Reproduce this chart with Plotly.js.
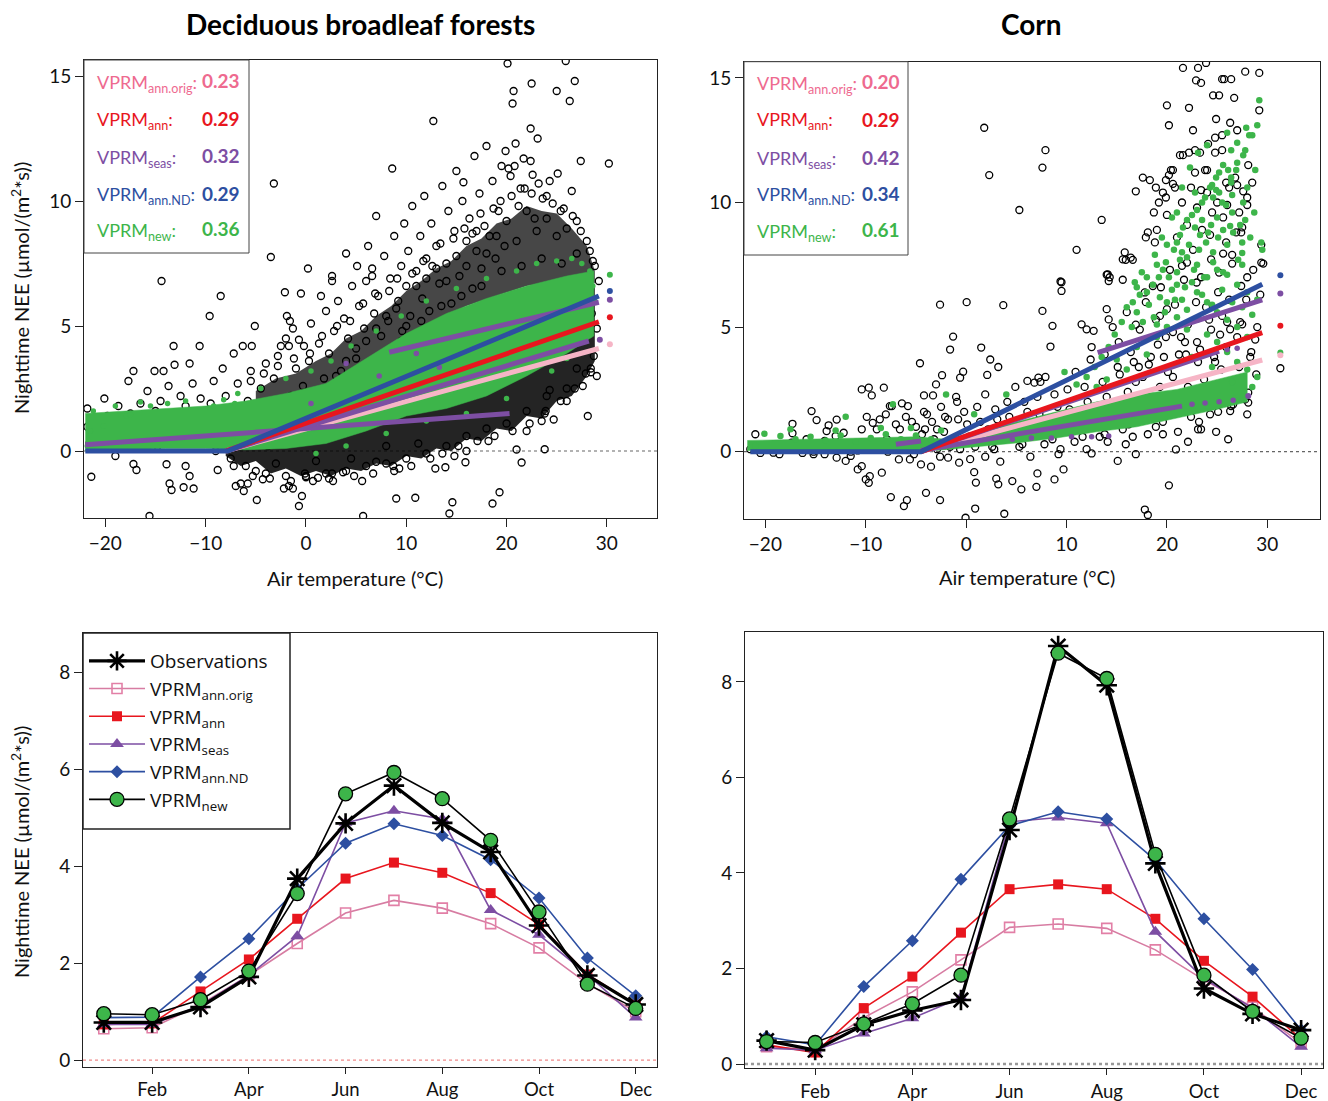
<!DOCTYPE html>
<html><head><meta charset="utf-8">
<script src="https://cdn.plot.ly/plotly-3.0.1.min.js"></script>
<style>body{margin:0;background:#fff}#chart{width:1328px;height:1101px}</style>
</head><body><div id="chart"></div>
<script>
// ---------------- DATA ----------------
// Top-left: Deciduous broadleaf forests, nighttime NEE vs air temperature
const dbfObs = [
[-21.8,1.7],[-21.8,0.97],[-21.4,-1.03],[-21.6,0.3],[-21.2,0.6],[-20.9,1.3],[-20.6,0.1],[-20.1,2.1],[-20.3,0.8],[-19.8,1.4],[-19.5,0.4],[-19.2,0.9],[-19.0,-0.2],[-18.7,1.8],[-18.5,0.6],[-18.2,1.1],[-17.9,0.2],[-17.7,2.8],[-17.5,1.5],[-17.2,3.2],[-17.2,-0.52],[-16.9,-0.76],[-16.8,0.9],[-16.5,1.9],[-16.3,0.4],[-16.0,1.3],[-15.8,2.4],[-15.6,-2.6],[-15.5,0.7],[-15.1,3.2],[-15.0,1.6],[-14.8,0.2],[-14.5,2.0],[-14.4,6.8],[-14.2,3.2],[-14.0,1.0],[-13.9,-0.53],[-13.7,2.6],[-13.6,-1.3],[-13.4,-1.56],[-13.2,4.2],[-13.1,3.45],[-13.0,1.4],[-12.8,0.5],[-12.5,2.2],[-12.2,-1.45],[-12.0,-0.6],[-12.0,1.8],[-11.8,0.9],[-11.6,3.5],[-11.6,-1.0],[-11.2,-1.5],[-11.3,2.7],[-11.0,1.2],[-10.8,0.3],[-10.6,4.2],[-10.5,2.1],[-10.2,1.6],
[-9.6,5.4],[-8.5,6.2],[-9.8,0.5],[-9.5,1.9],[-9.2,2.8],[-9.0,0.0],[-8.8,-0.76],[-8.6,1.3],[-8.3,3.3],[-8.0,2.2],[-7.8,0.8],[-7.5,-0.3],[-7.2,3.9],[-7.0,-1.4],[-7.0,1.6],[-6.8,2.7],[-6.5,-1.3],[-6.3,4.2],[-6.2,-1.6],[-6.0,0.4],[-5.8,-1.3],[-5.8,2.0],[-5.5,3.2],[-5.4,4.2],[-5.1,5.0],[-5.0,-0.8],[-4.9,-1.96],[-4.7,1.1],[-4.5,2.5],[-4.3,-1.13],[-4.0,3.5],[-3.8,0.2],[-3.5,7.76],[-3.5,1.6],[-3.2,10.7],[-3.2,2.9],[-3.0,-0.5],[-2.8,3.8],[-2.5,4.2],[-2.4,0.9],[-2.2,-1.5],[-2.1,6.35],[-2.0,4.5],[-1.9,5.4],[-1.7,4.2],[-1.7,-1.4],[-1.6,5.2],[-1.5,2.2],[-1.3,4.9],[-1.3,-1.5],[-1.0,3.3],[-0.8,0.6],[-0.7,4.45],[-0.7,-2.2],[-0.5,6.3],[-0.4,-1.8],[-0.3,2.6],[-0.2,4.2],[-0.1,-0.9],
[0.2,7.3],[0.0,-1.05],[0.3,3.6],[0.5,5.1],[0.8,1.8],[1.0,-0.4],[1.2,-1.07],[1.3,4.3],[1.5,6.2],[1.8,2.9],[2.0,5.6],[2.3,-1.1],[2.3,3.9],[2.6,7.0],[2.6,6.8],[2.6,-0.9],[2.8,4.8],[3.0,1.2],[3.2,6.0],[3.5,3.2],[3.7,-0.85],[3.8,5.3],[4.0,7.9],[4.2,4.5],[4.5,-0.3],[4.6,6.6],[5.0,3.7],[5.1,7.4],[5.3,5.8],[5.6,-1.2],[5.7,-2.6],[5.8,4.9],[6.0,6.8],[6.2,8.2],[6.4,3.4],[6.6,7.3],[6.6,7.0],[6.8,5.5],[7.0,-0.43],[7.0,9.4],[7.2,6.2],[7.5,4.6],[7.8,7.8],[8.0,0.2],[8.2,5.2],[8.4,6.9],[8.6,11.3],[8.7,-0.6],[8.8,8.6],[9.0,-1.9],[9.2,6.0],[9.3,-0.7],[9.5,7.4],[9.6,4.8],[9.8,9.1],
[10.0,6.6],[10.2,8.0],[10.4,5.4],[10.6,9.8],[10.9,-1.87],[11.0,7.2],[11.2,0.3],[11.4,8.6],[11.6,6.1],[11.8,10.2],[12.0,7.7],[12.3,5.6],[12.5,9.1],[12.7,13.2],[12.9,-0.7],[13.0,8.2],[13.3,6.7],[13.6,10.6],[13.9,-0.65],[14.0,7.5],[14.2,9.6],[14.3,-2.5],[14.6,-2.05],[14.5,5.9],[14.8,-0.2],[14.8,8.8],[15.0,11.2],[15.3,7.0],[15.6,10.0],[15.7,10.75],[15.9,-0.45],[16.0,0.0],[16.0,8.4],[16.3,9.3],[16.6,6.5],[16.8,11.8],[17.0,8.0],[17.3,10.3],[17.5,7.3],[17.8,9.0],[18.0,12.2],[18.2,0.4],[18.3,8.6],[18.6,-2.1],[18.6,10.8],[18.9,7.7],[19.2,9.6],[19.3,-1.65],[19.5,11.4],[19.9,12.0],[19.8,8.2],
[20.1,15.5],[20.2,11.3],[20.4,11.0],[20.6,13.9],[20.7,14.4],[20.8,11.4],[20.9,12.3],[21.0,0.06],[21.2,9.8],[21.5,-0.46],[21.7,11.7],[21.8,10.5],[22.0,0.8],[22.4,11.6],[22.4,12.9],[22.5,14.7],[22.6,11.05],[22.8,9.3],[23.1,12.5],[23.2,10.7],[23.5,1.2],[23.8,1.5],[23.8,0.07],[24.0,10.2],[24.3,10.8],[24.3,2.44],[24.7,1.26],[25.0,14.4],[25.1,11.1],[25.4,9.6],[25.9,15.6],[26.0,2.0],[26.3,14.0],[26.5,10.4],[26.8,14.8],[27.0,9.2],[27.4,11.6],[27.6,2.6],[28.1,1.4],[28.0,8.4],[28.4,3.3],[28.4,3.15],[28.6,7.6],[29.0,3.0],[29.2,6.8],[30.2,11.5],
[3,3.0],[4,3.6],[5,4.1],[6,4.4],[7,4.9],[8,5.4],[9,5.7],[10,5.0],[11,6.6],[12,6.9],[13,7.3],[14,6.8],[15,7.8],[16,7.4],[17,8.8],[18,7.9],[19,8.6],[20,9.2],[21,8.4],[22,9.6],[23,8.8],[24,9.3],[25,8.6],[26,8.9],[27,7.9],[21.5,7.4],[23.5,7.7],[25.5,7.5],[19.5,7.2],[17.5,6.6],[15.5,6.2],[13.5,5.8],[11.5,5.2],[9.5,4.4],[7.5,3.8],[5.5,3.2],[2.5,2.6],[0.5,2.2],[-1.5,1.6],[-3.5,1.3],[-5.5,0.9],[-7.5,0.6],
[-6,-0.6],[-4,-0.9],[-2,-1.0],[0,-1.0],[2,-0.9],[4,-0.8],[6,-0.6],[8,-0.5],[10,-0.3],[12,-0.1],[14,0.2],[16,0.6],[18,0.9],[20,1.1],[22,1.6],[24,2.2],[26,2.5],[27,3.3],[28,4.6],[28.5,5.5],[29,4.9],
[-5.5,2.8],[-4.2,3.1],[-2.8,3.4],[-1.2,3.7],[0.4,3.9],[1.6,4.6],[3.1,5.0],[4.4,5.2],[5.7,5.9],[6.9,6.3],[8.3,6.4],[9.1,6.9],[10.6,7.1],[11.7,7.6],[12.6,7.4],[13.4,8.3],[14.7,8.5],[15.8,8.9],[16.6,8.7],[17.4,9.5],[18.7,9.7],[19.4,10.0],[20.5,10.2],[21.4,10.5],[22.5,10.3],[23.6,10.1],[24.6,9.9],[25.7,9.7],[26.6,9.4],[27.4,8.8],[28.3,8.0],[28.8,7.4],
[-7.2,-0.6],[-5.3,-1.0],[-3.6,-1.1],[-1.5,-1.2],[0.7,-1.2],[2.7,-1.2],[4.8,-1.0],[6.7,-0.9],[8.8,-0.8],[10.5,-0.6],[12.4,-0.3],[13.6,-0.1],[15.2,0.2],[17.1,0.4],[18.8,0.6],[20.6,0.8],[22.3,1.1],[23.9,1.6],[25.4,2.0],[26.8,2.5],[27.9,3.1],[28.7,3.8]
];
// dense observation cores (envelopes read from the cloud)
const dbfCoreLowT   = [-8, -6.5, -5, -3.5, -2, -0.5, 1, 2.5, 4, 5.5, 7, 8.5, 10, 11.5, 13, 14.5, 16, 17.5, 19, 20.5, 22, 23.5, 25, 26.5, 28, 28.8];
const dbfCoreLowBot = [-0.2, -0.6, -0.4, -0.9, -0.7, -1.0, -0.8, -1.0, -0.7, -0.8, -0.5, -0.6, -0.2, -0.3, 0.1, 0.0, 0.5, 0.4, 0.9, 0.8, 1.4, 1.3, 2.0, 2.2, 3.0, 3.6];
const dbfCoreLowTop = [0.5, 0.7, 0.9, 1.1, 1.3, 1.5, 1.7, 2.0, 2.3, 2.6, 2.9, 3.2, 3.5, 3.8, 4.1, 4.4, 4.7, 5.0, 5.3, 5.6, 5.9, 6.1, 6.3, 6.5, 6.6, 6.6];
const dbfCoreHighT   = [-5, -3, -1, 1, 2.5, 4, 5.5, 7, 8.5, 10, 11.5, 13, 14.5, 16, 17.5, 19, 20.5, 22, 23.5, 25, 26.5, 28, 28.8];
const dbfCoreHighBot = [1.9, 2.1, 2.2, 2.4, 2.7, 3.1, 3.4, 3.8, 4.2, 4.6, 4.9, 5.2, 5.5, 5.8, 6.0, 6.2, 6.4, 6.6, 6.7, 6.8, 6.9, 6.9, 6.7];
const dbfCoreHighTop = [2.4, 2.9, 3.1, 3.6, 3.9, 4.5, 4.8, 5.4, 5.8, 6.4, 6.8, 7.3, 7.6, 8.2, 8.5, 9.1, 9.3, 9.8, 9.6, 9.5, 8.9, 8.2, 7.2];
// VPRM_new predictions band + scattered edge points
const dbfNewT  = [-22, -18, -14, -10, -6, -2, 2, 6, 10, 14, 18, 22, 26, 28.7];
const dbfNewUp = [1.5, 1.6, 1.7, 1.8, 2.0, 2.3, 2.7, 3.7, 4.7, 5.5, 6.1, 6.6, 7.0, 7.2];
const dbfNewLo = [0.0, 0.05, 0.1, 0.1, 0.05, 0.1, 0.3, 0.8, 1.4, 1.7, 2.2, 3.0, 3.9, 4.6];
const dbfNewPts = [[-21.2,1.6],[-20.2,1.0],[-19.0,1.8],[-17.9,1.4],[-17.5,1.45],[-16.5,1.96],[-15.5,1.8],[-13.8,1.9],[-12.0,2.0],[-9.2,1.8],[-8.2,2.05],[-7.1,1.9],[-6.8,2.3],[-4.5,2.5],[-2.0,2.9],[0.5,3.2],[2.5,3.6],[4.5,4.2],[7.0,4.8],[9.5,5.4],[12.0,6.0],[15.0,6.5],[18.0,6.9],[21.0,7.2],[23.0,7.5],[25.0,7.6],[26.5,7.7],[27.5,7.5],[28.3,7.2],[28.6,6.6],[28.8,6.0],[-21.8,0.2],[-21.5,0.8],[24.5,3.2],[26.0,3.7],[27.5,4.4],[20.0,2.1],[16.0,1.5],[12.0,1.2],[8.0,0.7],[4.0,0.2],[1.0,-0.1]];
// model response lines
const dbfOrigT = [-8, 29.2],  dbfOrigY = [0, 4.1];
const dbfAnnT  = [-8, 29.2],  dbfAnnY  = [0, 5.17];
const dbfNdT   = [-22, -7.8, 29.2], dbfNdY = [0, 0, 6.2];
const dbfSeasSegT = [[-22, 20.3], [8.3, 29.2], [-8, 28.2]];
const dbfSeasSegY = [[0.25, 1.5], [3.95, 5.95], [0, 4.4]];
const dbfSeasPts = [[4.0,3.5],[7.3,3.0],[13.3,3.35],[11.0,3.9],[0.5,1.9]];
const dbfEndT = [30.3, 30.3, 30.3, 30.3, 29.3, 30.3];
const dbfEndY = [7.05, 6.4, 6.05, 5.35, 4.45, 4.27];

// Top-right: Corn
const cornObs = [
[-21.0,0.7],[-21.5,0.1],[-20.5,-0.05],[-19.2,-0.04],[-18.6,-0.1],[-17.3,1.12],[-17.3,0.74],[-16.5,0.2],[-15.4,1.63],[-14.9,1.27],[-13.9,0.83],[-13.7,1.06],[-12.9,1.29],[-15.2,-0.1],[-14.1,-0.1],[-12.9,-0.24],[-12.0,-0.37],[-11.5,-0.17],[-10.8,-0.71],[-10.4,-0.58],[-10.0,-1.11],[-9.7,-1.25],[-9.6,-0.98],[-8.4,-0.84],[-10.4,2.5],[-9.7,2.57],[-9.4,2.26],[-8.2,2.57],[-7.6,1.83],[-7.4,1.83],[-6.4,1.94],[-5.8,1.83],[-7.5,-1.82],[-6.2,-2.18],[-5.9,-1.94],[-4.6,3.55],[-4.2,2.26],[-3.3,2.26],[-3.0,2.7],[-2.4,3.07],[-1.3,4.62],[-0.6,2.97],[-0.3,3.21],[0.05,6.0],[1.5,4.18],[2.1,3.08],[2.4,3.7],[3.2,3.4],[3.7,5.88],[7.6,5.65],[9.4,6.83],[9.5,6.45],[8.6,5.05],[8.4,4.22],[7.2,2.97],[7.4,2.8],[6.1,2.84],[6.8,2.77],[11.5,5.11],[12.0,4.91],[12.7,4.85],
[-16.3,-0.05],[-15.2,0.0],[-14.2,0.1],[-12.9,0.05],[-11.5,0.0],[-10.8,0.05],[-9.8,0.1],[-8.8,0.15],[-7.8,0.0],[-6.8,0.1],[-5.8,0.2],[-17.4,0.36],[-15.9,0.5],[-14.1,0.43],[-13.0,0.63],[-12.2,0.76],[-10.4,0.9],[-9.3,1.16],[-8.6,1.3],
[-9.9,1.4],[-8.9,0.9],[-8.0,1.5],[-7.0,1.1],[-6.0,1.4],[-5.0,1.0],[-4.2,1.6],[-3.4,1.2],[-2.5,1.8],[-1.8,1.3],[-1.0,2.2],[-0.2,1.6],
[-8.7,0.3],[-7.9,0.5],[-7.1,0.2],[-6.6,0.9],[-5.9,0.4],[-5.4,1.2],[-5.1,0.1],[-4.4,0.7],[-3.9,1.5],[-3.6,0.3],[-2.9,0.9],[-2.6,-0.2],[-2.1,1.4],[-1.4,0.5],[-0.9,2.0],[-0.6,0.1],[0.1,1.1],[0.4,-0.3],[1.1,1.8],[1.6,0.6],[1.9,2.3],[2.6,0.2],[3.1,1.3],[3.4,-0.4],[4.1,2.0],[4.6,0.8],[4.9,2.6],[5.6,0.3],[6.1,1.6],[6.4,-0.2],[7.1,2.2],[7.6,0.9],[7.9,3.0],[8.6,0.5],[9.1,1.8],[9.4,0.1],[10.1,2.5],[10.6,1.2],[10.9,3.2],[11.6,0.6],[12.1,2.0],[12.4,3.7],[13.1,1.0],[13.6,2.8],[14.1,0.4],[14.4,1.7],[15.1,3.4],[15.6,0.9],[16.1,2.4],[16.4,4.0],[17.1,1.4],[17.6,3.0],[18.1,0.7],[18.4,2.1],[19.1,4.3],[19.6,1.2],[20.1,3.2],[20.4,2.0],[21.1,0.8],[21.4,4.6],[22.1,2.6],[22.4,1.4],[23.1,3.6],[23.4,0.9],[24.1,2.2],[24.4,4.9],[25.1,1.6],[25.4,3.3],[26.1,0.5],[27.1,2.9],[28.0,1.5],
[-4.8,0.4],[-4.1,0.9],[-3.2,0.5],[-2.2,0.8],[-1.6,0.2],[-0.8,1.3],[0.3,0.6],[0.9,0.2],[1.4,1.2],[2.2,0.9],[2.9,1.7],[3.6,0.5],[4.3,1.4],[5.1,1.0],[5.8,2.0],[6.6,0.7],[7.3,1.5],[8.1,1.1],[8.8,2.3],[9.6,0.9],[10.3,1.7],[11.1,1.0],[11.8,2.6],[12.6,1.5],[13.3,0.6],[14.0,2.2],[14.7,1.2],[15.4,2.0],[16.2,1.1],[16.9,2.8],[17.7,1.8],[18.2,3.5],[18.9,1.0],[19.3,2.6],[19.9,1.6],[20.6,3.0],[21.3,1.9],[21.9,3.9],[22.6,2.2],[23.2,1.2],[23.7,2.9],[24.3,1.5],[24.8,3.6],[25.4,2.3],[25.9,4.2],[26.6,1.9],[27.2,3.4],[27.8,2.1],[28.4,4.0],[28.9,3.1],
[2.8,0.1],[5.3,0.2],[7.8,0.3],[10.8,0.4],[13.8,0.7],[16.6,0.6],[19.6,0.7],[22.1,0.4],[24.9,0.8],[-2.9,0.1],[-5.2,-0.1],[1.9,-0.2],[9.2,-0.1],[12.0,0.1],[15.9,0.3],
[15.3,3.1],[17.2,3.4],[19.7,3.8],[21.8,4.4],[23.3,4.1],[25.3,4.7],[27.3,5.2],[28.8,4.5],[16.9,5.1],[20.6,4.8],[22.9,6.0],[24.2,5.3],[26.2,6.1],[28.0,7.0],[29.3,6.3],
[20.2,-1.35],[17.8,-2.32],[18.1,-2.54],[20.9,0.09],[23.1,0.9],[16.9,-0.1],[15.1,-0.37],[12.5,-0.07],[9.7,-0.71],[8.8,-1.11],[7.0,-1.41],[7.1,-0.87],[5.5,-1.51],[4.6,-1.18],[3.0,-1.08],[3.2,-1.31],[0.8,-0.82],[0.97,-1.24],[0.9,-2.28],[3.8,-2.49],[-0.06,-2.65],[-4.0,-1.65],[-2.6,-1.94],[-0.7,-0.44],[-1.8,-0.24],[-3.5,-0.6],[-4.5,-0.51],[-5.6,-0.31],[-6.7,-0.31],
[14.1,7.12],[14.2,6.85],[14.0,5.72],[14.2,5.31],[15.6,7.72],[16.4,7.79],[17.8,6.39],[18.6,6.65],[19.3,5.45],[20.0,5.72],[21.5,7.46],[22.0,7.59],[22.96,6.79],[24.4,7.72],[25.2,7.19],[25.5,5.45],[26.3,4.91],[25.9,2.77],[26.3,2.5],[26.4,1.83],[26.3,1.63],[28.1,1.97],[28.1,2.37],[29.4,7.59],[27.4,6.65],[27.5,5.11],[31.3,3.35],
[12.5,4.2],[13.8,3.9],[14.6,5.0],[15.2,4.4],[16.0,5.6],[16.7,3.6],[17.3,4.9],[17.9,6.0],[18.4,3.8],[18.9,5.3],[19.4,6.6],[19.9,4.6],[20.3,7.3],[20.8,5.9],[21.2,3.9],[21.7,6.9],[22.1,5.1],[22.6,8.1],[23.0,4.4],[23.4,7.0],[23.9,5.8],[24.3,8.7],[24.7,3.8],[25.1,6.4],[25.6,9.4],[26.0,5.2],[26.5,7.9],[27.0,4.6],[27.4,8.8],[27.9,6.1],[28.3,3.8],[28.6,7.3],[29.0,5.0],
[19.0,8.9],[20.0,9.5],[21.0,8.6],[21.5,10.0],[22.0,9.1],[23.0,9.8],[23.5,8.9],[24.0,10.4],[24.5,9.6],[25.0,10.0],[26.0,9.9],[26.8,11.0],[27.2,9.6],[28.5,10.8],
[21.6,15.4],[23.1,15.4],[23.9,15.6],[22.9,14.9],[23.4,14.8],[25.5,14.95],[25.7,14.95],[26.4,14.95],[27.8,15.25],[29.2,15.2],[24.6,14.3],[25.2,14.3],[26.7,14.2],[20.0,13.9],[22.2,13.8],[29.2,13.7],[24.9,13.35],[26.3,13.2],[20.2,13.1],[22.6,12.9],[27.0,12.9],[25.5,12.7],[24.8,12.6],[24.1,12.35],[22.8,12.1],[23.3,12.0],[25.5,12.1],[21.3,11.9],[21.6,11.9],[22.2,12.0],[24.8,12.0],[7.9,12.1],[7.6,11.4],[5.3,9.7],[20.4,11.3],[20.6,11.3],[22.8,11.2],[23.8,11.3],[24.0,11.3],[28.1,11.5],[17.6,11.0],[18.3,10.9],[19.9,10.9],[20.2,11.1],[16.9,10.45],[18.9,10.6],[19.6,10.4],[20.6,10.75],[20.8,10.6],[22.4,10.6],[23.4,10.5],[25.9,10.8],[27.0,10.7],[26.2,10.6],[27.6,10.45],[28.0,10.2],[28.0,9.9],[13.5,9.3],[11.0,8.1],[9.5,6.8],[18.7,9.6],[19.2,10.0],[19.9,10.2],[18.1,8.8],[17.9,8.6],[18.8,8.4],[15.8,8.0],[15.9,7.7],[16.6,7.7],[14.0,7.1],[14.3,7.0],[15.6,6.9],[27.5,9.0],[26.9,8.8],[25.9,8.4],[25.6,7.95],[26.5,7.55],[29.4,8.3],[29.6,7.55],[1.8,13.0],[2.3,11.1],[-2.6,5.9],[-1.6,4.1]
];
const cornNewWedgeT  = [-3, 1, 5, 9, 13, 17, 21, 25, 28];
const cornNewWedgeLo = [0.05, 0.2, 0.35, 0.55, 0.8, 1.0, 1.35, 1.7, 2.0];
const cornNewWedgeUp = [0.35, 0.8, 1.2, 1.6, 2.0, 2.3, 2.5, 2.9, 3.2];
const cornNewLowT  = [-21.8, -16, -10, -5, -2];
const cornNewLowLo = [0.05, 0.05, 0.05, 0.05, 0.1];
const cornNewLowUp = [0.45, 0.5, 0.55, 0.6, 0.5];
const cornNewPts = [
[29.2,14.1],[29.0,13.1],[28.2,12.7],[28.5,12.7],[27.9,13.0],[27.0,12.4],[27.8,12.1],[26.4,12.1],[27.6,11.9],[25.6,11.5],[26.1,11.3],[26.9,11.3],[25.2,11.2],[24.9,11.0],[26.4,11.0],[26.4,10.8],[24.3,10.6],[24.9,10.5],[25.2,10.4],[24.6,10.2],[23.8,10.2],[23.5,10.0],[23.0,9.7],[22.5,9.5],[22.0,9.3],[21.6,9.0],[21.3,8.7],[21.0,8.4],[20.7,8.1],[22.8,9.0],[23.3,8.7],[23.9,8.4],[24.6,8.0],[25.0,9.4],[25.6,8.9],[24.4,9.1],[25.9,9.9],[26.5,9.6],[27.6,10.0],[26.3,9.06],[27.5,8.4],[27.5,7.97],[27.5,7.5],[29.4,8.4],[29.5,8.1],[19.9,7.6],[19.6,7.3],[19.2,7.0],[18.6,6.7],[18.0,6.4],[17.3,6.3],[16.6,6.0],[16.0,5.8],[15.5,5.2],[14.8,4.7],[14.2,4.2],[13.5,3.8],[12.8,3.4],[12.0,3.0],[11.0,2.7],[20.5,6.5],[21.0,7.2],[21.5,6.1],[22.0,7.8],[22.5,6.8],[23.0,7.5],[23.5,6.3],[24.0,7.0],[24.5,5.9],[25.0,7.3],[25.5,6.5],[26.0,7.1],[26.5,6.0],[27.0,6.7],[27.5,5.8],[28.0,6.4],[28.5,5.5],[29.0,6.1],[20.0,5.0],[21.0,5.4],[22.0,4.9],[23.0,5.3],[24.0,4.7],[25.0,4.4],[26.0,4.0],[27.0,3.6],[28.0,3.3],[29.0,3.0],[19.0,4.6],[18.0,3.9],[17.0,4.2],[16.0,3.3],[15.0,3.7],[14.0,2.9],[13.0,2.6],[22.5,3.8],[24.5,3.4],[26.5,2.8],[28.5,2.6],[21.5,10.6],[22.3,11.4],[23.1,12.0],[24.0,12.3],[20.5,9.4],[19.5,8.6],[18.8,7.9],[17.5,7.2],[16.8,6.8],
[16.5,5.0],[17.0,5.6],[17.6,5.2],[18.2,5.9],[18.7,5.4],[19.3,6.2],[19.8,5.6],[20.2,7.0],[20.8,6.1],[21.3,7.7],[21.8,6.6],[22.2,8.3],[22.7,7.3],[23.2,8.1],[23.7,7.0],[24.1,8.8],[24.6,7.6],[25.1,8.6],[25.6,7.2],[26.0,8.3],[26.6,8.8],[27.1,7.7],[27.8,9.3],[28.3,8.6],[28.7,9.6],[19.0,5.1],[20.0,6.0],[21.0,6.7],[22.0,5.7],[23.0,6.4],[24.0,6.0],[25.0,5.6],[26.0,5.3],[27.0,5.0],[28.0,4.6],[21.5,8.0],[23.5,9.3],[24.5,10.7],[25.5,10.0],[26.5,10.3],[27.0,11.6],[27.3,9.1],[28.0,10.6],[28.8,11.3],[26.0,12.8],[22.8,10.4],[21.0,9.6],[20.0,8.3],[19.0,7.5],[18.0,7.0],[17.0,6.6],
[-21.0,0.23],[-20.1,0.72],[-18.5,0.63],[-17.0,0.5],[-15.5,0.6],[-14.0,0.45],[-12.5,0.65],[-11.0,0.4],[-9.5,0.55],[-8.0,0.7],[-6.5,0.5],[-5.0,0.65],[-3.5,0.5],[-17.5,0.9],[-13.0,0.85],[-8.5,0.95],[-5.5,0.95],[-2.5,0.85],[-12.0,1.4],[-7.3,1.9],[-2.0,2.3],[4.0,2.3],[9.8,3.2],[0.8,1.5]
];
const cornOrigT = [-4.5, 29.5], cornOrigY = [0, 3.68];
const cornAnnT  = [-4.5, 29.5], cornAnnY  = [0, 4.78];
const cornNdT   = [-21.5, -4.5, 29.5], cornNdY = [0, 0, 6.72];
const cornSeasSegT = [[-7, -4.5], [-4.5, 21.5], [-4.5, 25.2], [13.1, 29.5]];
const cornSeasSegY = [[0.3, 0.43], [0.05, 1.83], [0, 4.04], [3.98, 6.09]];
const cornSeasPts = [[4.6,0.5],[6.5,0.55],[8.5,0.55],[10.5,0.6],[12.5,0.6],[14.2,0.63],[22.5,1.9],[23.8,1.95],[25.2,2.0],[26.6,2.07],[26.0,4.1],[27.0,4.15]];
const cornEndT = [31.3, 31.3, 31.3, 31.3, 31.3, 28.1];
const cornEndY = [7.08, 6.35, 5.05, 3.98, 3.87, 2.24];

// Statistic labels in the inset boxes
const statNames  = ['VPRM<sub>ann.orig</sub>:', 'VPRM<sub>ann</sub>:', 'VPRM<sub>seas</sub>:', 'VPRM<sub>ann.ND</sub>:', 'VPRM<sub>new</sub>:'];
const dbfStats   = ['0.23', '0.29', '0.32', '0.29', '0.36'];
const cornStats  = ['0.20', '0.29', '0.42', '0.34', '0.61'];

// Bottom panels: monthly mean nighttime NEE
const months = [1,2,3,4,5,6,7,8,9,10,11,12];
const monthTickVals = [2,4,6,8,10,12];
const monthTickText = ['Feb','Apr','Jun','Aug','Oct','Dec'];
const dbfMonObs  = [0.78,0.78,1.10,1.72,3.75,4.89,5.67,4.90,4.30,2.78,1.75,1.15];
const dbfMonOrig = [0.65,0.67,1.15,1.75,2.41,3.04,3.30,3.14,2.82,2.32,1.58,1.00];
const dbfMonAnn  = [0.74,0.76,1.42,2.08,2.92,3.75,4.08,3.87,3.45,2.80,1.77,1.15];
const dbfMonSeas = [0.74,0.74,1.13,1.75,2.56,4.90,5.15,4.98,3.10,2.59,1.77,0.88];
const dbfMonNd   = [0.88,0.89,1.72,2.51,3.54,4.48,4.88,4.64,4.14,3.35,2.11,1.33];
const dbfMonNew  = [0.96,0.94,1.25,1.84,3.44,5.50,5.94,5.40,4.54,3.06,1.57,1.07];
const cornMonObs  = [0.49,0.29,0.82,1.12,1.34,4.90,8.75,7.93,4.20,1.58,1.05,0.71];
const cornMonOrig = [0.36,0.29,0.97,1.51,2.18,2.86,2.93,2.84,2.39,1.76,1.19,0.43];
const cornMonAnn  = [0.40,0.24,1.17,1.83,2.75,3.66,3.76,3.66,3.04,2.16,1.41,0.52];
const cornMonSeas = [0.33,0.29,0.64,0.96,1.39,5.07,5.16,5.04,2.77,1.79,1.17,0.36];
const cornMonNd   = [0.57,0.40,1.62,2.58,3.87,4.99,5.28,5.13,4.27,3.04,1.98,0.71];
const cornMonNew  = [0.47,0.45,0.84,1.26,1.86,5.13,8.60,8.07,4.39,1.86,1.10,0.54];

// ---------------- STYLE ----------------
const C = {orig:'#EE6A8F', origLine:'#F6B5C6', origMon:'#D77CA2', ann:'#E8161E', seas:'#7D4EA3', nd:'#2D4FA1', green:'#3DB54A', black:'#000'};
const FONT = 'Lato, "Open Sans", "DejaVu Sans", sans-serif';

const px = a => a.map(p => p[0]);
const py = a => a.map(p => p[1]);
const band = (T, lo, up) => ({x: T.concat(T.slice().reverse()), y: lo.concat(up.slice().reverse())});
const segs = (ST, SY) => { const x=[], y=[]; ST.forEach((s,i)=>{ x.push(...s, null); y.push(...SY[i], null); }); return {x, y}; };

function scatterPanel(xa, ya, d) {
  const tr = [];
  const common = {xaxis:xa, yaxis:ya, showlegend:false, hoverinfo:'skip'};
  (d.cores || []).forEach(c => {
    const b = band(c[0], c[1], c[2]);
    tr.push(Object.assign({type:'scatter', mode:'lines', x:b.x, y:b.y, fill:'toself', fillcolor:c[3], line:{width:0}}, common));
  });
  tr.push(Object.assign({type:'scatter', mode:'markers', x:px(d.obs), y:py(d.obs), marker:{symbol:'circle-open', size:7, color:'#000', line:{width:1.3}}}, common));
  d.newBands.forEach(b => { const g = band(...b); tr.push(Object.assign({type:'scatter', mode:'lines', x:g.x, y:g.y, fill:'toself', fillcolor:C.green, line:{width:0.5, color:C.green}}, common)); });
  tr.push(Object.assign({type:'scatter', mode:'markers', x:px(d.newPts), y:py(d.newPts), marker:{symbol:'circle', size:d.newSize, color:C.green}}, common));
  tr.push(Object.assign({type:'scatter', mode:'lines', x:d.origT, y:d.origY, line:{color:C.origLine, width:5}}, common));
  const s = segs(d.seasT, d.seasY);
  tr.push(Object.assign({type:'scatter', mode:'lines', x:s.x, y:s.y, line:{color:C.seas, width:5}, connectgaps:false}, common));
  tr.push(Object.assign({type:'scatter', mode:'markers', x:px(d.seasPts), y:py(d.seasPts), marker:{size:5.5, color:C.seas}}, common));
  tr.push(Object.assign({type:'scatter', mode:'lines', x:d.annT, y:d.annY, line:{color:C.ann, width:5}}, common));
  tr.push(Object.assign({type:'scatter', mode:'lines', x:d.ndT, y:d.ndY, line:{color:C.nd, width:5}}, common));
  tr.push(Object.assign({type:'scatter', mode:'markers', x:d.endT, y:d.endY, marker:{size:6, color:d.endC}, cliponaxis:false}, common));
  return tr;
}

const traces = [];
traces.push(...scatterPanel('x','y', {
  obs:dbfObs,
  cores:[[dbfCoreHighT, dbfCoreHighBot, dbfCoreHighTop, 'rgba(0,0,0,0.72)'], [dbfCoreLowT, dbfCoreLowBot, dbfCoreLowTop, 'rgba(0,0,0,0.86)']],
  newBands:[[dbfNewT, dbfNewLo, dbfNewUp]], newPts:dbfNewPts, newSize:5.5,
  origT:dbfOrigT, origY:dbfOrigY, annT:dbfAnnT, annY:dbfAnnY, ndT:dbfNdT, ndY:dbfNdY,
  seasT:dbfSeasSegT, seasY:dbfSeasSegY, seasPts:dbfSeasPts,
  endT:dbfEndT, endY:dbfEndY, endC:[C.green, C.nd, C.seas, C.ann, C.seas, C.origLine]
}));
traces.push(...scatterPanel('x2','y2', {
  obs:cornObs, cores:[],
  newBands:[[cornNewWedgeT, cornNewWedgeLo, cornNewWedgeUp], [cornNewLowT, cornNewLowLo, cornNewLowUp]], newPts:cornNewPts, newSize:6.5,
  origT:cornOrigT, origY:cornOrigY, annT:cornAnnT, annY:cornAnnY, ndT:cornNdT, ndY:cornNdY,
  seasT:cornSeasSegT, seasY:cornSeasSegY, seasPts:cornSeasPts,
  endT:cornEndT, endY:cornEndY, endC:[C.nd, C.seas, C.ann, C.green, C.origLine, C.seas]
}));

function monthPanel(xa, ya, d, legend) {
  const base = {type:'scatter', mode:'lines+markers', x:months, xaxis:xa, yaxis:ya, hoverinfo:'skip', showlegend:legend, cliponaxis:false};
  return [
    Object.assign({}, base, {name:'VPRM<sub>ann.orig</sub>', legendrank:2, y:d.orig, line:{color:C.origMon, width:1.6}, marker:{symbol:'square-open', size:10, color:'#E27FA6', line:{width:1.6}}}),
    Object.assign({}, base, {name:'VPRM<sub>ann</sub>', legendrank:3, y:d.ann, line:{color:C.ann, width:1.6}, marker:{symbol:'square', size:10, color:C.ann}}),
    Object.assign({}, base, {name:'VPRM<sub>seas</sub>', legendrank:4, y:d.seas, line:{color:C.seas, width:1.6}, marker:{symbol:'triangle-up', size:12, color:C.seas}}),
    Object.assign({}, base, {name:'VPRM<sub>ann.ND</sub>', legendrank:5, y:d.nd, line:{color:C.nd, width:1.6}, marker:{symbol:'diamond', size:10, color:C.nd}}),
    Object.assign({}, base, {name:'Observations', legendrank:1, y:d.obs, line:{color:'#000', width:3.2}, marker:{symbol:'asterisk-open', size:17, color:'#000', line:{color:'#000', width:2.6}}}),
    Object.assign({}, base, {name:'VPRM<sub>new</sub>', legendrank:6, y:d.nw, line:{color:'#000', width:1.6}, marker:{symbol:'circle', size:14, color:C.green, line:{color:'#000', width:1.3}}})
  ];
}
traces.push(...monthPanel('x3','y3', {obs:dbfMonObs, orig:dbfMonOrig, ann:dbfMonAnn, seas:dbfMonSeas, nd:dbfMonNd, nw:dbfMonNew}, true));
traces.push(...monthPanel('x4','y4', {obs:cornMonObs, orig:cornMonOrig, ann:cornMonAnn, seas:cornMonSeas, nd:cornMonNd, nw:cornMonNew}, false));

// ---------------- LAYOUT ----------------
const W = 1328, H = 1101;
const PX = v => v / W, PY = v => 1 - v / H;
const axBase = {showline:true, mirror:true, linecolor:'#222', linewidth:1, ticks:'outside', ticklen:8, tickwidth:1, tickcolor:'#222', showgrid:false, zeroline:false, tickfont:{size:19, color:'#111', family:FONT}, fixedrange:true};
const tempTicks = {tickmode:'array', tickvals:[-20,-10,0,10,20,30], ticktext:['\u221220','\u221210','0','10','20','30']};
const monthAx = {tickvals:monthTickVals, ticktext:monthTickText, ticklen:6, tickfont:{size:18.5, color:'#111', family:FONT}};
const layout = {
  width:W, height:H, margin:{l:0, r:0, t:0, b:0}, paper_bgcolor:'#fff', plot_bgcolor:'#fff',
  font:{family:FONT, color:'#111'}, hovermode:false,
  xaxis:  Object.assign({}, axBase, tempTicks, {domain:[PX(84), PX(657)], range:[-22.13, 35.0], anchor:'y'}),
  yaxis:  Object.assign({}, axBase, {domain:[PY(518), PY(60)], range:[-2.68, 15.64], tickvals:[0,5,10,15], anchor:'x'}),
  xaxis2: Object.assign({}, axBase, tempTicks, {domain:[PX(744), PX(1320)], range:[-22.13, 35.25], anchor:'y2'}),
  yaxis2: Object.assign({}, axBase, {domain:[PY(519), PY(61.7)], range:[-2.7, 15.65], tickvals:[0,5,10,15], anchor:'x2'}),
  xaxis3: Object.assign({}, axBase, monthAx, {domain:[PX(83), PX(657)], range:[0.57, 12.44], anchor:'y3'}),
  yaxis3: Object.assign({}, axBase, {domain:[PY(1067), PY(633)], range:[-0.14, 8.82], tickvals:[0,2,4,6,8], anchor:'x3'}),
  xaxis4: Object.assign({}, axBase, monthAx, {domain:[PX(745), PX(1323)], range:[0.556, 12.45], anchor:'y4'}),
  yaxis4: Object.assign({}, axBase, {domain:[PY(1068.3), PY(631.7)], range:[-0.09, 9.05], tickvals:[0,2,4,6,8], anchor:'x4'}),
  showlegend:true,
  legend:{x:PX(84), y:PY(642), xanchor:'left', yanchor:'top', bgcolor:'rgba(0,0,0,0)', borderwidth:0, font:{size:19, color:'#111', family:'"Open Sans", Lato, sans-serif'}, itemwidth:56, tracegroupgap:0, traceorder:'normal'},
  shapes:[
    {type:'line', xref:'x domain', yref:'y', x0:0, x1:1, y0:0, y1:0, line:{color:'#666', width:1.2, dash:'dot'}, layer:'below'},
    {type:'line', xref:'x2 domain', yref:'y2', x0:0, x1:1, y0:0, y1:0, line:{color:'#666', width:1.2, dash:'dot'}, layer:'below'},
    {type:'line', xref:'x3 domain', yref:'y3', x0:0, x1:1, y0:0, y1:0, line:{color:'#F08A8A', width:1.2, dash:'dot'}, layer:'below'},
    {type:'line', xref:'x4 domain', yref:'y4', x0:0, x1:1, y0:0, y1:0, line:{color:'#999', width:2.5, dash:'dot'}, layer:'below'},
    {type:'rect', xref:'paper', yref:'paper', x0:PX(84), x1:PX(249), y0:PY(253), y1:PY(60), fillcolor:'#fff', line:{color:'#444', width:1}, layer:'above'},
    {type:'rect', xref:'paper', yref:'paper', x0:PX(744), x1:PX(908), y0:PY(255), y1:PY(61.7), fillcolor:'#fff', line:{color:'#444', width:1}, layer:'above'},
    {type:'rect', xref:'paper', yref:'paper', x0:PX(83), x1:PX(290), y0:PY(829), y1:PY(633), fillcolor:'#fff', line:{color:'#222', width:1.5}, layer:'above'}
  ],
  annotations:[]
};
const A = layout.annotations;
const ann = (x, y, text, size, extra) => A.push(Object.assign({xref:'paper', yref:'paper', x:PX(x), y:PY(y), text:text, showarrow:false, font:{size:size, color:'#111', family:FONT}, xanchor:'center', yanchor:'middle'}, extra || {}));
ann(360, 24, '<b>Deciduous broadleaf forests</b>', 28, {font:{size:28, color:'#000', family:FONT}});
ann(1031, 24, '<b>Corn</b>', 28, {font:{size:28, color:'#000', family:FONT}});
ann(355, 578, 'Air temperature (\u00B0C)', 20);
ann(1027, 577, 'Air temperature (\u00B0C)', 20);
ann(20, 288, 'Nighttime NEE (\u00B5mol/(m<sup>2</sup>*s))', 20, {textangle:-90});
ann(20, 852, 'Nighttime NEE (\u00B5mol/(m<sup>2</sup>*s))', 20, {textangle:-90});
const statColors = [C.orig, C.ann, C.seas, C.nd, C.green];
const rowsL = [81, 118, 156, 193, 229], rowsR = [82, 119, 157, 193, 230];
statNames.forEach((nm, i) => {
  const f = {size:18, color:statColors[i], family:FONT};
  const fv = {size:19, color:statColors[i], family:FONT};
  ann(95, rowsL[i]+2, nm, 18, {xanchor:'left', font:f});
  ann(200, rowsL[i], '<b>'+dbfStats[i]+'</b>', 19, {xanchor:'left', font:fv});
  ann(755, rowsR[i]+2, nm, 18, {xanchor:'left', font:f});
  ann(860, rowsR[i], '<b>'+cornStats[i]+'</b>', 19, {xanchor:'left', font:fv});
});

Plotly.newPlot('chart', traces, layout, {staticPlot:true, displayModeBar:false});
</script></body></html>
